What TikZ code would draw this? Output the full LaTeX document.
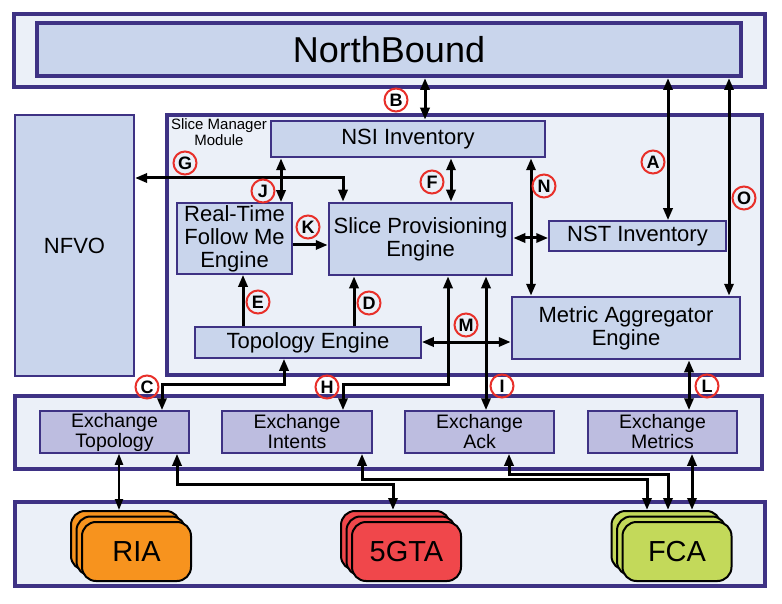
\documentclass[tikz,border=0pt]{standalone}
\usepackage{fontspec}
\setmainfont{Liberation Sans}
\usetikzlibrary{arrows.meta,calc}
\definecolor{framec}{RGB}{62,50,132}
\definecolor{bgpale}{RGB}{235,240,248}
\definecolor{boxblue}{RGB}{201,213,236}
\definecolor{exlav}{RGB}{189,189,224}
\definecolor{riaor}{RGB}{247,147,30}
\definecolor{gtared}{RGB}{240,71,75}
\definecolor{fcagreen}{RGB}{195,217,90}
\definecolor{lblred}{RGB}{232,48,42}
\tikzset{
  outerbox/.style={draw=framec,fill=bgpale,line width=4pt,rectangle,inner sep=0pt},
  mainbox/.style={draw=framec,fill=boxblue,line width=2.5pt,rectangle,inner sep=0pt,align=center,font=\fontsize{22}{23}\selectfont},
  thinbox/.style={mainbox,line width=1.5pt},
  exbox/.style={draw=framec,fill=exlav,line width=1.5pt,rectangle,inner sep=0pt,align=center,font=\fontsize{19.5}{20}\selectfont},
  stackbox/.style={draw=black,line width=2pt,rectangle,rounded corners=14pt,minimum width=109pt,minimum height=59pt,inner sep=0pt,font=\fontsize{29}{30}\selectfont},
  lbl/.style={circle,draw=lblred,line width=2pt,minimum size=23pt,inner sep=0pt,font=\fontsize{18}{18}\bfseries\selectfont},
  conn/.style={line width=3pt,-{Triangle[length=12pt,width=9pt]}},
  dconn/.style={line width=3pt,{Triangle[length=12pt,width=9pt]}-{Triangle[length=12pt,width=9pt]}},
  tconn/.style={line width=2pt,{Triangle[length=11pt,width=8pt]}-{Triangle[length=11pt,width=8pt]}},
}
\begin{document}
\begin{tikzpicture}[x=1pt,y=-1pt]
\useasboundingbox (0,0) rectangle (782,604);
\fill[white] (0,0) rectangle (782,604);
% outer frames
\node[outerbox,minimum width=751pt,minimum height=73pt] (topout) at (389.5,50.5) {};
\node[mainbox,line width=4pt,minimum width=704pt,minimum height=53pt,font=\fontsize{36}{36}\selectfont] (nb) at (389,49.5) {NorthBound};
\node[mainbox,line width=2pt,minimum width=119pt,minimum height=261pt] (nfvo) at (74.5,245.5) {NFVO};
\node[outerbox,minimum width=595pt,minimum height=260pt] (smm) at (464.5,245) {};
\node[align=center,inner sep=0pt,font=\fontsize{15}{16}\selectfont] (smmlabel) at (219,132) {Slice Manager\\Module};
\node[outerbox,minimum width=747pt,minimum height=73pt] (exout) at (388.5,432.5) {};
\node[outerbox,minimum width=750pt,minimum height=84pt] (botout) at (390,544) {};
% inner boxes
\node[mainbox,minimum width=274pt,minimum height=36pt] (nsi) at (408,139) {NSI Inventory};
\node[thinbox,minimum width=115pt,minimum height=71pt] (rt) at (234.5,238.5) {Real-Time\\Follow Me\\Engine};
\node[mainbox,minimum width=183pt,minimum height=72pt] (spe) at (420.5,239) {Slice Provisioning\\Engine};
\node[thinbox,minimum width=177pt,minimum height=30pt] (nst) at (637.5,236) {NST Inventory};
\node[thinbox,minimum width=226pt,minimum height=31pt] (te) at (308,342.5) {Topology Engine};
\node[mainbox,minimum width=228pt,minimum height=62pt] (mae) at (626,328) {Metric Aggregator\\Engine};
\node[exbox,minimum width=149pt,minimum height=42pt] (ext) at (114.5,432) {Exchange\\Topology};
\node[exbox,minimum width=150pt,minimum height=42pt] (exi) at (297,432) {Exchange\\Intents};
\node[exbox,minimum width=149pt,minimum height=42pt] (exa) at (479.5,432) {Exchange\\Ack};
\node[exbox,minimum width=149pt,minimum height=42pt] (exm) at (662.5,432) {Exchange\\Metrics};
% stacks
\node[stackbox,fill=riaor] (ria3) at (125.5,540.5) {};
\node[stackbox,fill=riaor] (ria2) at (131,546) {};
\node[stackbox,fill=riaor] (ria) at (136.5,551.5) {RIA};
\node[stackbox,fill=gtared] (gta3) at (395.5,540.5) {};
\node[stackbox,fill=gtared] (gta2) at (401,546) {};
\node[stackbox,fill=gtared] (gta) at (406.5,551.5) {5GTA};
\node[stackbox,fill=fcagreen] (fca3) at (666,540.5) {};
\node[stackbox,fill=fcagreen] (fca2) at (671.5,546) {};
\node[stackbox,fill=fcagreen] (fca) at (677,551.5) {FCA};
% connectors
\draw[dconn] (nb.south -| 425,0) -- (nsi.north -| 425,0);
\draw[dconn] (nb.south -| 668,0) -- (nst.north -| 668,0);
\draw[dconn] (nb.south -| 729,0) -- (mae.north -| 729,0);
\draw[dconn] (nsi.south -| 531,0) -- (mae.north -| 531,0);
\draw[dconn] (nsi.south -| 451,0) -- (spe.north -| 451,0);
\draw[dconn] (nsi.south -| 281,0) -- (rt.north -| 281,0);
\draw[dconn] (spe.east |- 0,238) -- (nst.west |- 0,238);
\draw[dconn] (nfvo.east |- 0,178) -| (spe.north -| 343,0);
\draw[conn] (rt.east |- 0,245) -- (spe.west |- 0,245);
\draw[conn] (te.north -| 243,0) -- (rt.south -| 243,0);
\draw[conn] (te.north -| 354,0) -- (spe.south -| 354,0);
\draw[dconn] (te.east |- 0,342) -- (mae.west |- 0,342);
\draw[dconn] (spe.south -| 448,0) |- (343,384) -- (exi.north -| 343,0);
\draw[dconn] (spe.south -| 486,0) -- (exa.north -| 486,0);
\draw[dconn] (te.south -| 284,0) |- (162,384) -- (ext.north -| 162,0);
\draw[dconn] (mae.south -| 689,0) -- (exm.north -| 689,0);
\draw[tconn] (ext.south -| 119,0) -- (ria3.north -| 119,0);
\draw[dconn] (ext.south -| 177,0) |- (393,484) -- (gta3.north -| 393,0);
\draw[dconn] (exi.south -| 362,0) |- (647,479) -- (fca3.north -| 647,0);
\draw[dconn] (exa.south -| 509,0) |- (668,474) -- (fca3.north -| 668,0);
\draw[dconn] (exm.south -| 692,0) -- (fca3.north -| 692,0);
% labels
\node[lbl] (lA) at (653,162) {A};
\node[lbl] (lB) at (396,100) {B};
\node[lbl] (lC) at (147,387) {C};
\node[lbl] (lD) at (369,303) {D};
\node[lbl] (lE) at (258,302) {E};
\node[lbl] (lF) at (432,182) {F};
\node[lbl] (lG) at (185,163) {G};
\node[lbl] (lH) at (327,387) {H};
\node[lbl] (lI) at (502,386) {I};
\node[lbl] (lJ) at (263,191) {J};
\node[lbl] (lK) at (308,227) {K};
\node[lbl] (lL) at (707,386) {L};
\node[lbl] (lM) at (466,325) {M};
\node[lbl] (lN) at (544,186) {N};
\node[lbl] (lO) at (744,198) {O};
\end{tikzpicture}
\end{document}
